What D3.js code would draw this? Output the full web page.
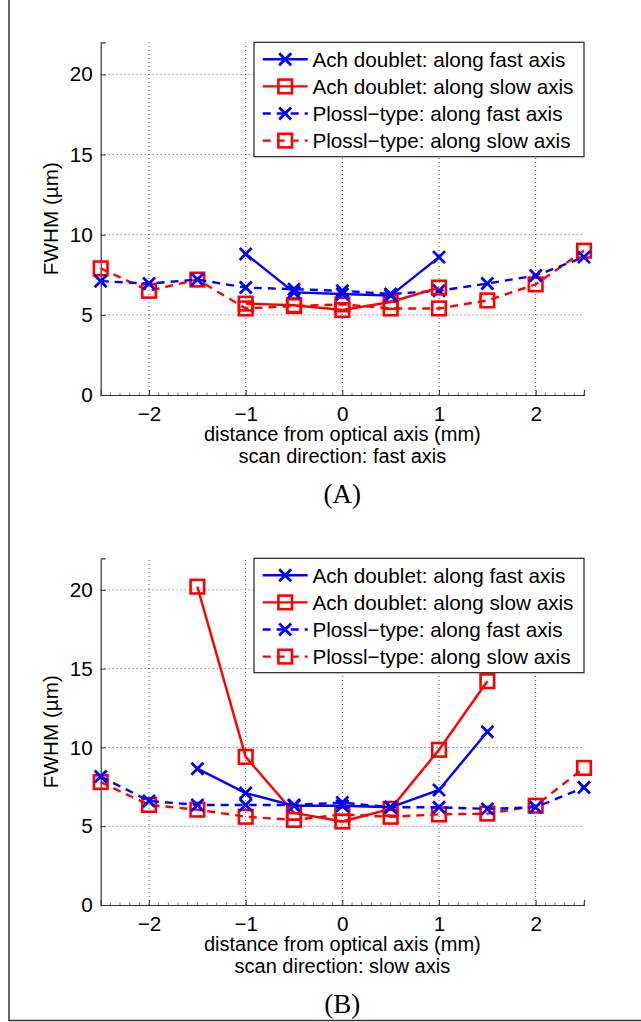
<!DOCTYPE html>
<html><head><meta charset="utf-8">
<script src="https://cdn.jsdelivr.net/npm/d3@7"></script>
<style>body{margin:0;background:#fff}svg{display:block}</style>
</head><body>
<script>
// ---------------- data ----------------
const xFull = [-2.5,-2,-1.5,-1,-0.5,0,0.5,1,1.5,2,2.5];
const xAchA = [-1,-0.5,0,0.5,1];
const xAchB = [-1.5,-1,-0.5,0,0.5,1,1.5];

const achFastA  = [8.8,6.4,6.3,6.2,8.6];
const achSlowA  = [5.7,5.6,5.3,5.8,6.7];
const plosFastA = [7.1,6.95,7.2,6.7,6.6,6.5,6.3,6.5,6.95,7.45,8.6];
const plosSlowA = [7.9,6.5,7.2,5.4,5.55,5.65,5.4,5.4,5.9,6.9,9.0];

const achFastB  = [8.65,7.1,6.3,6.3,6.2,7.3,11.0];
const achSlowB  = [20.2,9.4,5.85,5.3,6.1,9.85,14.2];
const plosFastB = [8.15,6.6,6.35,6.35,6.35,6.5,6.2,6.2,6.1,6.2,7.45];
const plosSlowB = [7.8,6.35,6.05,5.6,5.4,5.75,5.6,5.75,5.8,6.3,8.7];

const xTicks = [-2,-1,0,1,2];
const yTicks = [0,5,10,15,20];
const legendLabels = ["Ach doublet: along fast axis","Ach doublet: along slow axis","Plossl\u2212type: along fast axis","Plossl\u2212type: along slow axis"];
const yLabel = "FWHM (\u00b5m)";
const xLabel1 = "distance from optical axis (mm)";
const panels = [
  {tag:"(A)", scan:"scan direction: fast axis", top:42.3, bottom:395,
   series:[[xAchA,achFastA],[xAchA,achSlowA],[xFull,plosFastA],[xFull,plosSlowA]]},
  {tag:"(B)", scan:"scan direction: slow axis", top:558.3, bottom:905,
   series:[[xAchB,achFastB],[xAchB,achSlowB],[xFull,plosFastB],[xFull,plosSlowB]]}
];
const styles = [
  {color:"#0000ff", dash:null, marker:"x"},
  {color:"#ff0000", dash:null, marker:"sq"},
  {color:"#0000ff", dash:"8,6", marker:"x"},
  {color:"#ff0000", dash:"8,6", marker:"sq"}
];

// ---------------- drawing ----------------
const W = 641, H = 1022;
const SANS = "'Liberation Sans', Arial, Helvetica, sans-serif";
const SERIF = "'Liberation Serif', 'Times New Roman', serif";
const svg = d3.select("body").append("svg").attr("width",W).attr("height",H);
// outer frame
svg.append("line").attr("x1",9).attr("x2",9).attr("y1",0).attr("y2",1021).attr("stroke","#333").attr("stroke-width",1.5);
svg.append("line").attr("x1",9).attr("x2",W).attr("y1",1020.5).attr("y2",1020.5).attr("stroke","#333").attr("stroke-width",1.5);

const x = d3.scaleLinear().domain([-2.5,2.5]).range([100.7,584]);
const FS = 20.7;
const LW = 2.4;

function marker(g, type, cx, cy, color){
  if(type==="x"){
    const s=6;
    g.append("path").attr("d",`M${cx-s},${cy-s}L${cx+s},${cy+s}M${cx-s},${cy+s}L${cx+s},${cy-s}`)
     .attr("stroke",color).attr("stroke-width",2.8).attr("fill","none");
  } else {
    const s=6.8;
    g.append("rect").attr("x",cx-s).attr("y",cy-s).attr("width",2*s).attr("height",2*s)
     .attr("stroke",color).attr("stroke-width",2.6).attr("fill","none");
  }
}
function txt(sel, size, fam){ return sel.style("font-family",fam||SANS).style("font-size",size+"px").attr("fill","#000"); }

panels.forEach(p=>{
  const y = d3.scaleLinear().domain([0,22]).range([p.bottom,p.top]);
  const g = svg.append("g");
  // grid
  xTicks.forEach(t=>{
    g.append("line").attr("x1",x(t)).attr("x2",x(t)).attr("y1",y(0)).attr("y2",y(22))
     .attr("stroke","#555").attr("stroke-width",1).attr("stroke-dasharray","1,3");
  });
  yTicks.filter(t=>t>0).forEach(t=>{
    g.append("line").attr("x1",x(-2.5)).attr("x2",x(2.5)).attr("y1",y(t)).attr("y2",y(t))
     .attr("stroke","#555").attr("stroke-width",1).attr("stroke-dasharray","1,3");
  });
  // axes via d3
  const xa = g.append("g").attr("transform",`translate(0,${y(0)})`)
    .call(d3.axisBottom(x).tickValues(xTicks).tickSize(-5).tickPadding(11).tickFormat(d=>d<0?"\u2212"+Math.abs(d):d));
  const ya = g.append("g").attr("transform",`translate(${x(-2.5)},0)`)
    .call(d3.axisLeft(y).tickValues(yTicks).tickSize(-5).tickPadding(8));
  [xa,ya].forEach(a=>{
    a.attr("font-family",null).attr("font-size",null);
    a.select(".domain").attr("stroke","#333").attr("stroke-width",1.2);
    a.selectAll(".tick line").attr("stroke","#333");
    txt(a.selectAll("text"), FS);
  });
  // minor ticks
  d3.range(-2.5,2.5001,0.1).forEach(t=>{
    g.append("line").attr("x1",x(t)).attr("x2",x(t)).attr("y1",y(0)).attr("y2",y(0)-2.5).attr("stroke","#777").attr("stroke-width",1);
  });
  // labels
  txt(g.append("text").attr("transform",`translate(58,${(p.top+p.bottom)/2}) rotate(-90)`)
    .attr("text-anchor","middle"),FS).text(yLabel);
  const cx = x(0);
  txt(g.append("text").attr("x",cx).attr("y",p.bottom+45.5).attr("text-anchor","middle"),20).text(xLabel1);
  txt(g.append("text").attr("x",cx).attr("y",p.bottom+68).attr("text-anchor","middle"),20).text(p.scan);
  txt(g.append("text").attr("x",cx).attr("y",p.bottom+107.7).attr("text-anchor","middle"),27,SERIF).text(p.tag);
  // series
  const line = d3.line().x(d=>x(d[0])).y(d=>y(d[1]));
  [3,2,1,0].forEach(i=>{
    const s = p.series[i], st = styles[i];
    const pts = s[0].map((xv,j)=>[xv,s[1][j]]);
    g.append("path").datum(pts).attr("d",line).attr("fill","none").attr("stroke",st.color)
      .attr("stroke-width",LW).attr("stroke-dasharray",st.dash);
    pts.forEach(d=>marker(g,st.marker,x(d[0]),y(d[1]),st.color));
  });
  // legend
  const lw=330, lh=114.4, lx=x(2.5)-lw, ly=p.top;
  const lg = g.append("g");
  lg.append("rect").attr("x",lx).attr("y",ly).attr("width",lw).attr("height",lh)
    .attr("fill","#fff").attr("stroke","#222").attr("stroke-width",1.2);
  legendLabels.forEach((lab,i)=>{
    const cy = ly+17+i*27.1, st=styles[i];
    lg.append("line").attr("x1",lx+8.7).attr("x2",lx+53.7).attr("y1",cy).attr("y2",cy)
      .attr("stroke",st.color).attr("stroke-width",LW).attr("stroke-dasharray",st.dash);
    marker(lg,st.marker,lx+31.2,cy,st.color);
    txt(lg.append("text").attr("x",lx+58.4).attr("y",cy+7.2),FS).text(lab);
  });
});
</script>
</body></html>
